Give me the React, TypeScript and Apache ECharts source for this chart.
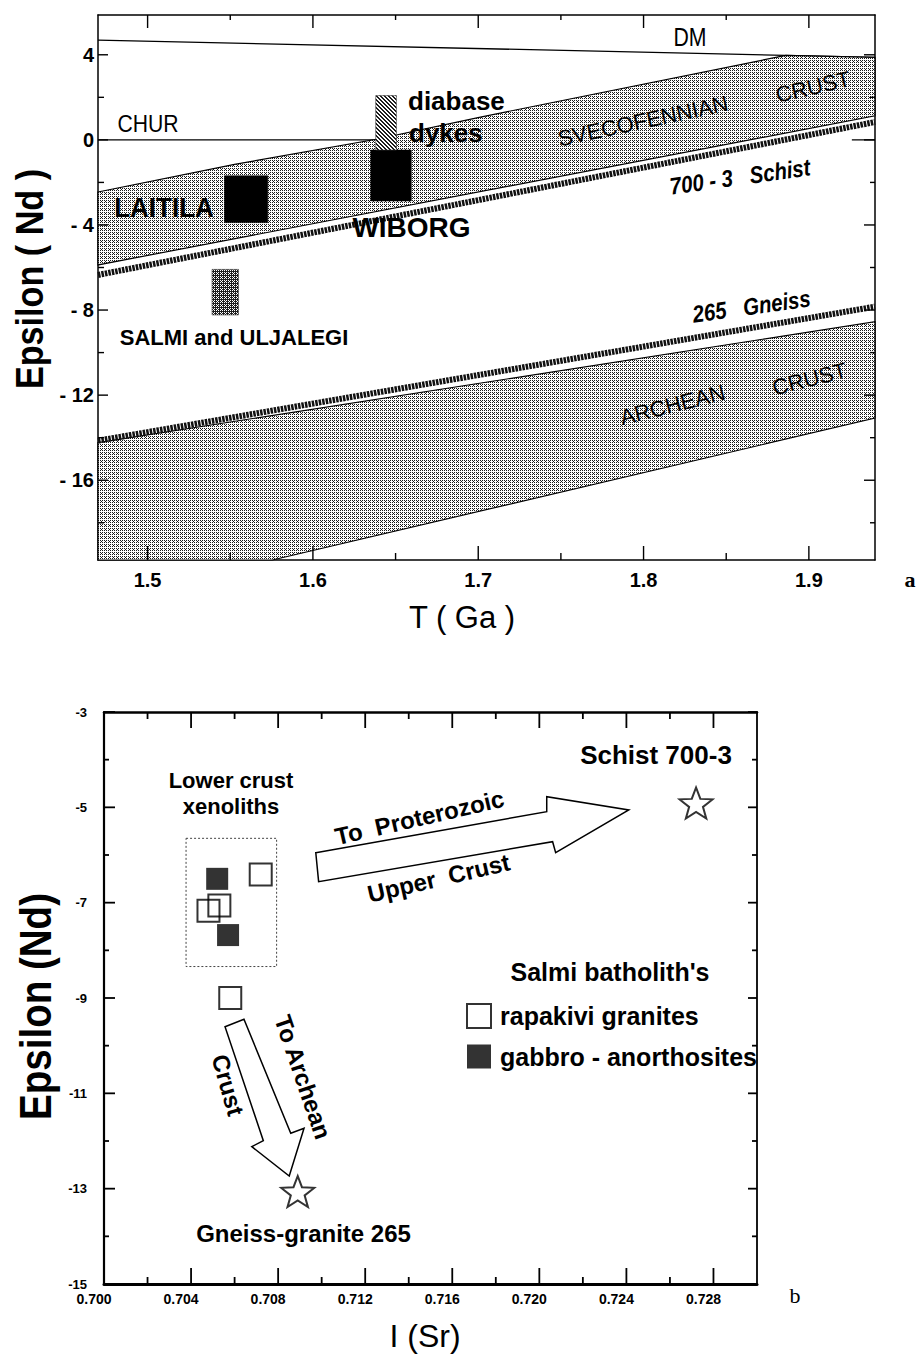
import React, { useEffect, useRef } from 'react';
import * as echarts from 'echarts';

const SANS = '"Liberation Sans", Arial, Helvetica, sans-serif';
const SERIF = '"Liberation Serif", "Times New Roman", serif';

// ---------------- panel a : Epsilon(Nd) vs T(Ga) ----------------
const T_RANGE = [1.47, 1.94];
const EPS_A_RANGE = [-19.75, 5.87];
const T_TICKS = [1.5, 1.6, 1.7, 1.8, 1.9];
const T_MINOR_TICKS = [1.55, 1.65, 1.75, 1.85];
const EPS_A_TICKS = [4, 0, -4, -8, -12, -16];
const EPS_A_MINOR_TICKS = [2, -2, -6, -10, -14, -18];

const DM = [[1.47, 4.69], [1.94, 3.88]];
const CHUR_LEFT = [[1.47, 0], [1.64, 0]];
const CHUR_RIGHT = [[1.926, 0], [1.94, 0]];
const SVECO_TOP = [[1.47, -2.45], [1.5526, -1.15], [1.6384, 0.03], [1.7006, 1.06], [1.886, 3.97], [1.94, 3.88]];
const SVECO_BOTTOM = [[1.47, -5.88], [1.94, 1.13]];
const SCHIST_700_3 = [[1.47, -6.35], [1.94, 0.84]];
const GNEISS_265 = [[1.47, -14.14], [1.94, -7.84]];
const ARCHEAN_TOP = [[1.47, -14.23], [1.94, -8.55]];
const ARCHEAN_BOTTOM = [[1.47, -19.75], [1.5755, -19.75], [1.94, -13.08]];

const BOX_NAMES = ['LAITILA', 'WIBORG', 'diabase dykes', 'SALMI and ULJALEGI'];
const BOX_T = [[1.5465, 1.5727], [1.635, 1.6595], [1.638, 1.6505], [1.539, 1.555]];
const BOX_EPS = [[-3.89, -1.69], [-2.87, -0.48], [-0.48, 2.08], [-8.23, -6.09]];
const BOX_FILL = ['solid', 'solid', 'hatch', 'dense'];

// ---------------- panel b : Epsilon(Nd) vs I(Sr) ----------------
const SR_RANGE = [0.7, 0.73];
const EPS_B_RANGE = [-15, -3];
const SR_LABELS = [0.7, 0.704, 0.708, 0.712, 0.716, 0.72, 0.724, 0.728];
const SR_MAJOR_TICKS = [0.704, 0.708, 0.712, 0.716, 0.72, 0.724, 0.728];
const SR_MINOR_TICKS = [0.702, 0.706, 0.71, 0.714, 0.718, 0.722, 0.726];
const EPS_B_TICKS = [-3, -5, -7, -9, -11, -13, -15];
const EPS_B_MINOR_TICKS = [-4, -6, -8, -10, -12, -14];

const RAPAKIVI = [[0.7072, -6.41], [0.7053, -7.06], [0.7048, -7.17], [0.7058, -9.0]];
const GABBRO = [[0.7052, -6.5], [0.7057, -7.68]];
const SCHIST_STAR = [[0.7272, -4.91]];
const GNEISS_STAR = [[0.7089, -13.06]];
const XENOLITH_BOX = [[0.70377, -5.65], [0.70793, -8.34]];
const ARROW_UPPER_CRUST = [
  [0.70973, -5.952], [0.72034, -5.091], [0.72034, -4.777], [0.72411, -5.056],
  [0.72075, -5.952], [0.72061, -5.721], [0.70986, -6.56],
];
const ARROW_ARCHEAN_CRUST = [
  [0.70556, -9.602], [0.70643, -9.446], [0.70858, -11.838], [0.70919, -11.733],
  [0.70851, -12.734], [0.70679, -12.119], [0.70732, -11.993],
];

const STAR_PATH =
  'path://M50 0 L62.34 33.01 L97.55 34.55 L69.97 56.49 L79.39 90.45 L50 71 L20.61 90.45 L30.03 56.49 L2.45 34.55 L37.66 33.01 Z';

// axis indices: grid a -> x/y 0 (bottom/left) and 1 (top/right); grid b -> 2 and 3
const AX_A = 0;
const AX_B = 2;

function makePattern(size: number, bg: string, fg: string, dots: number[][]) {
  const c = document.createElement('canvas');
  c.width = size;
  c.height = size;
  const ctx = c.getContext('2d') as CanvasRenderingContext2D;
  ctx.fillStyle = bg;
  ctx.fillRect(0, 0, size, size);
  ctx.fillStyle = fg;
  dots.forEach(([x, y]) => ctx.fillRect(x, y, 1, 1));
  return { image: c, repeat: 'repeat', imageWidth: size, imageHeight: size };
}

function mkAxis(o: any) {
  return {
    type: 'value',
    gridIndex: o.grid,
    position: o.pos,
    min: o.min,
    max: o.max,
    splitLine: { show: false },
    axisLine: { show: true, onZero: false, lineStyle: { color: '#000', width: o.lineW } },
    axisTick: { show: false },
    axisLabel: o.labels
      ? { show: true, customValues: o.labels, color: '#000', fontFamily: SANS, fontWeight: 'bold', ...o.label }
      : { show: false },
    axisPointer: { show: false },
  };
}

// inward tick marks drawn on the frame of a grid, from tick value lists
function tickSeries(ai: number, xr: number[], yr: number[], groups: number[][], lens: number[][], width: number) {
  const data: number[][] = [];
  groups.forEach((vals, k) => vals.forEach((v) => data.push([v, k])));
  return {
    type: 'custom',
    name: 'ticks',
    xAxisIndex: ai,
    yAxisIndex: ai,
    silent: true,
    z: 9,
    data,
    renderItem: (_p: any, api: any) => {
      const v = api.value(0);
      const k = api.value(1);
      const [a, b] = lens[k];
      const st = { stroke: '#000', lineWidth: width };
      if (k < 2) {
        const p0 = api.coord([v, yr[0]]);
        const p1 = api.coord([v, yr[1]]);
        return {
          type: 'group',
          children: [
            { type: 'line', shape: { x1: p0[0], y1: p0[1], x2: p0[0], y2: p0[1] - a }, style: st },
            { type: 'line', shape: { x1: p1[0], y1: p1[1], x2: p1[0], y2: p1[1] + b }, style: st },
          ],
        };
      }
      const p0 = api.coord([xr[0], v]);
      const p1 = api.coord([xr[1], v]);
      return {
        type: 'group',
        children: [
          { type: 'line', shape: { x1: p0[0], y1: p0[1], x2: p0[0] + a, y2: p0[1] }, style: st },
          { type: 'line', shape: { x1: p1[0], y1: p1[1], x2: p1[0] - b, y2: p1[1] }, style: st },
        ],
      };
    },
  };
}

function txt(text: string, x: number, y: number, size: number, o: any = {}) {
  return {
    type: 'text',
    x,
    y,
    rotation: ((o.rot || 0) * Math.PI) / 180,
    scaleX: o.sx || 1,
    silent: true,
    z: 100,
    style: {
      text,
      fontSize: size,
      fontWeight: o.w || 'bold',
      fontStyle: o.it ? 'italic' : 'normal',
      fontFamily: o.ff || SANS,
      fill: '#000',
      align: o.align || 'center',
      verticalAlign: 'middle',
    },
  };
}

export default function App() {
  const ref = useRef<HTMLDivElement>(null);

  useEffect(() => {
    if (!ref.current) return;
    const chart = echarts.init(ref.current, null, { renderer: 'svg' });

    // ordered-dither style stipple (no directional streaks)
    const stipple = makePattern(4, '#ffffff', '#1a1a1a', [[0, 0], [2, 0], [0, 2], [2, 2], [1, 1], [3, 3]].slice(0, 5));
    const stippleB = makePattern(4, '#ffffff', '#1a1a1a', [[0, 0], [2, 0], [0, 2], [2, 2], [1, 1]]);
    const dense = makePattern(4, '#1e1e1e', '#ffffff', [[0, 0], [2, 0], [0, 2], [2, 2], [1, 1]]);
    const hatch = makePattern(4, '#ffffff', '#1e1e1e', [[0, 0], [1, 1], [2, 2], [3, 3], [1, 0], [2, 1], [3, 2], [0, 3]]);
    const fills: any = { solid: '#000', hatch, dense };

    const polygon = (name: string, pts: number[][], style: any, ai: number, z = 2) => ({
      type: 'custom',
      name,
      xAxisIndex: ai,
      yAxisIndex: ai,
      silent: true,
      z,
      data: [pts[0]],
      renderItem: (_p: any, api: any) => ({
        type: 'polygon',
        shape: { points: pts.map((p) => api.coord(p)) },
        style,
      }),
    });

    const line = (name: string, data: number[][], style: any, z = 2) => ({
      type: 'line',
      name,
      data,
      xAxisIndex: AX_A,
      yAxisIndex: AX_A,
      symbol: 'none',
      silent: true,
      z,
      lineStyle: style,
    });

    const scatter = (name: string, data: number[][], symbol: string, size: any, itemStyle: any) => ({
      type: 'scatter',
      name,
      xAxisIndex: AX_B,
      yAxisIndex: AX_B,
      symbol,
      symbolSize: size,
      data,
      itemStyle,
      silent: true,
      z: 4,
    });

    const option: any = {
      animation: false,
      backgroundColor: '#ffffff',
      grid: [
        { left: 98, top: 15, width: 777, height: 545, outerBoundsMode: 'none' },
        { left: 104, top: 712, width: 653, height: 572, outerBoundsMode: 'none' },
      ],
      xAxis: [
        mkAxis({ grid: 0, pos: 'bottom', min: T_RANGE[0], max: T_RANGE[1], lineW: 1.5,
          labels: T_TICKS, label: { fontSize: 20, margin: 10, formatter: (v: number) => v.toFixed(1) } }),
        mkAxis({ grid: 0, pos: 'top', min: T_RANGE[0], max: T_RANGE[1], lineW: 1.5 }),
        mkAxis({ grid: 1, pos: 'bottom', min: SR_RANGE[0], max: SR_RANGE[1], lineW: 3,
          labels: SR_LABELS, label: { fontSize: 14, margin: 8, padding: [0, 20, 0, 0], formatter: (v: number) => v.toFixed(3) } }),
        mkAxis({ grid: 1, pos: 'top', min: SR_RANGE[0], max: SR_RANGE[1], lineW: 2.5 }),
      ],
      yAxis: [
        mkAxis({ grid: 0, pos: 'left', min: EPS_A_RANGE[0], max: EPS_A_RANGE[1], lineW: 1.5,
          labels: EPS_A_TICKS, label: { fontSize: 20, margin: 4, formatter: (v: number) => (v < 0 ? '- ' + Math.abs(v) : String(v)) } }),
        mkAxis({ grid: 0, pos: 'right', min: EPS_A_RANGE[0], max: EPS_A_RANGE[1], lineW: 1.5 }),
        mkAxis({ grid: 1, pos: 'left', min: EPS_B_RANGE[0], max: EPS_B_RANGE[1], lineW: 2.2,
          labels: EPS_B_TICKS, label: { fontSize: 13, margin: 17, formatter: (v: number) => String(v) } }),
        mkAxis({ grid: 1, pos: 'right', min: EPS_B_RANGE[0], max: EPS_B_RANGE[1], lineW: 1.8 }),
      ],
      legend: {
        orient: 'vertical',
        left: 466,
        top: 1003,
        padding: 0,
        itemWidth: 24,
        itemHeight: 24,
        itemGap: 15,
        icon: 'rect',
        selectedMode: false,
        textStyle: { fontSize: 25, fontWeight: 'bold', color: '#000', fontFamily: SANS, padding: [0, 0, 0, 4] },
        data: [
          { name: 'rapakivi granites', itemStyle: { color: 'rgba(0,0,0,0)', borderColor: '#000', borderWidth: 2 } },
          { name: 'gabbro - anorthosites', itemStyle: { color: '#000' } },
        ],
      },
      series: [
        // ---- panel a ----
        line('DM', DM, { color: '#000', width: 1.3 }),
        line('CHUR', CHUR_LEFT, { color: '#000', width: 1.3 }),
        line('CHUR (right)', CHUR_RIGHT, { color: '#000', width: 1.3 }),
        polygon('Svecofennian crust', [...SVECO_TOP, ...SVECO_BOTTOM.slice().reverse()],
          { fill: stipple, stroke: '#000', lineWidth: 1.2 }, AX_A, 3),
        polygon('Archean crust', [...ARCHEAN_TOP, ...ARCHEAN_BOTTOM.slice().reverse()],
          { fill: stippleB, stroke: '#000', lineWidth: 1.2 }, AX_A, 3),
        line('700-3 Schist', SCHIST_700_3, { color: '#111', width: 6, type: [2.5, 1], cap: 'butt' }, 4),
        line('265 Gneiss', GNEISS_265, { color: '#111', width: 6, type: [2.5, 1], cap: 'butt' }, 4),
        {
          type: 'custom',
          name: 'intrusions',
          xAxisIndex: AX_A,
          yAxisIndex: AX_A,
          silent: true,
          z: 5,
          data: BOX_T.map((t, i) => [t[0], t[1], BOX_EPS[i][0], BOX_EPS[i][1], i]),
          encode: { x: [0, 1], y: [2, 3] },
          renderItem: (_p: any, api: any) => {
            const p0 = api.coord([api.value(0), api.value(3)]);
            const p1 = api.coord([api.value(1), api.value(2)]);
            const kind = BOX_FILL[api.value(4)];
            return {
              type: 'rect',
              name: BOX_NAMES[api.value(4)],
              shape: { x: p0[0], y: p0[1], width: p1[0] - p0[0], height: p1[1] - p0[1] },
              style: { fill: fills[kind], stroke: kind === 'solid' ? '#000' : '#333', lineWidth: 0.6 },
            };
          },
        },
        tickSeries(AX_A, T_RANGE, EPS_A_RANGE, [T_TICKS, T_MINOR_TICKS, EPS_A_TICKS, EPS_A_MINOR_TICKS],
          [[14, 13], [7, 5], [10, 11], [6, 5]], 1.4),
        // ---- panel b ----
        polygon('xenolith field',
          [XENOLITH_BOX[0], [XENOLITH_BOX[1][0], XENOLITH_BOX[0][1]], XENOLITH_BOX[1], [XENOLITH_BOX[0][0], XENOLITH_BOX[1][1]]],
          { fill: 'none', stroke: '#444', lineWidth: 1, lineDash: [2, 2] }, AX_B, 2),
        polygon('to Proterozoic upper crust', ARROW_UPPER_CRUST, { fill: '#fff', stroke: '#000', lineWidth: 1.5 }, AX_B, 2),
        polygon('to Archean crust', ARROW_ARCHEAN_CRUST, { fill: '#fff', stroke: '#000', lineWidth: 1.5 }, AX_B, 2),
        scatter('rapakivi granites', RAPAKIVI, 'rect', 22, { color: 'rgba(0,0,0,0)', borderColor: '#000', borderWidth: 2 }),
        scatter('gabbro - anorthosites', GABBRO, 'rect', 22, { color: '#000' }),
        scatter('Schist 700-3', SCHIST_STAR, STAR_PATH, [33, 31], { color: '#fff', borderColor: '#000', borderWidth: 2 }),
        scatter('Gneiss-granite 265', GNEISS_STAR, STAR_PATH, [33, 31], { color: '#fff', borderColor: '#000', borderWidth: 2 }),
        tickSeries(AX_B, SR_RANGE, EPS_B_RANGE, [SR_MAJOR_TICKS, SR_MINOR_TICKS, EPS_B_TICKS, EPS_B_MINOR_TICKS],
          [[16, 16], [7, 7], [11, 9], [5, 5]], 1.8),
      ],
      graphic: [
        // panel a annotations
        txt('DM', 690, 37, 25, { w: 'normal', sx: 0.85 }),
        txt('CHUR', 148, 124, 23, { w: 'normal', sx: 0.92 }),
        txt('LAITILA', 164, 208, 28, { sx: 0.93 }),
        txt('WIBORG', 411.5, 227.5, 28),
        txt('diabase', 408, 101, 26, { align: 'left' }),
        txt('dykes', 409, 133, 26, { align: 'left' }),
        txt('SVECOFENNIAN', 643, 121, 22, { w: 'normal', rot: 12 }),
        txt('CRUST', 813, 87, 22, { w: 'normal', rot: 13 }),
        txt('700 - 3   Schist', 740, 177, 24, { it: true, sx: 0.85, rot: 8 }),
        txt('265   Gneiss', 751.5, 306.5, 24, { it: true, sx: 0.85, rot: 8 }),
        txt('SALMI and ULJALEGI', 234, 337, 22),
        txt('ARCHEAN', 672.5, 405, 22, { w: 'normal', rot: 14 }),
        txt('CRUST', 809.5, 379, 22, { w: 'normal', rot: 14 }),
        txt('a', 910, 579, 22, { ff: SERIF }),
        txt('T ( Ga )', 462, 617, 31, { w: 'normal' }),
        txt('Epsilon ( Nd )', 30, 279, 38, { rot: 90, sx: 0.9 }),
        // panel b annotations
        txt('Lower crust', 231, 780, 22),
        txt('xenoliths', 231, 806, 22),
        txt('Schist 700-3', 656, 755, 26),
        txt('Gneiss-granite 265', 303.5, 1233, 24),
        txt("Salmi batholith's", 610, 972, 25),
        txt('To  Proterozoic', 419.5, 817.5, 24, { rot: 13 }),
        txt('Upper  Crust', 438.6, 878, 24, { rot: 13 }),
        txt('To Archean', 303, 1077, 24, { rot: -71 }),
        txt('Crust', 228, 1085, 24, { rot: -74 }),
        txt('b', 795, 1295, 22, { ff: SERIF, w: 'normal' }),
        txt('I (Sr)', 425, 1336, 32, { w: 'normal' }),
        txt('Epsilon (Nd)', 36.5, 1006.5, 44, { rot: 90, sx: 0.876 }),
      ],
    };

    chart.setOption(option);
    return () => chart.dispose();
  }, []);

  return (
    <div
      ref={ref}
      style={{ position: 'absolute', left: 0, top: 0, width: 917, height: 1355, background: '#fff' }}
    />
  );
}
